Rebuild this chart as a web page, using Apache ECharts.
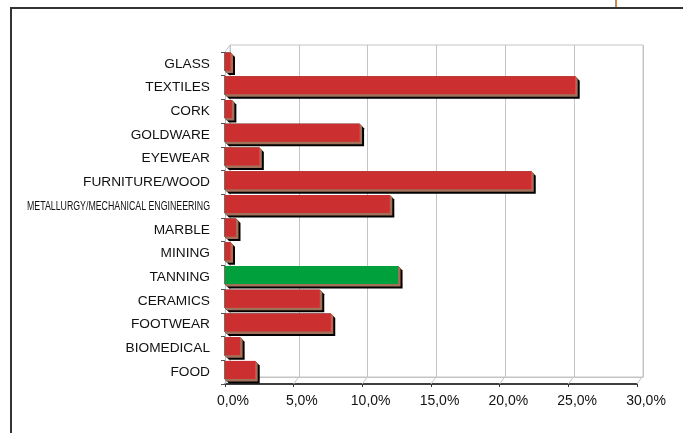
<!DOCTYPE html>
<html>
<head>
<meta charset="utf-8">
<script src="https://cdn.jsdelivr.net/npm/echarts@6/dist/echarts.min.js"></script>
<style>
  html, body { margin: 0; padding: 0; background: #fff; }
  #chart { width: 683px; height: 433px; }
</style>
</head>
<body>
<div id="chart"></div>
<script>
// Sector shares (%), top to bottom
const categories = ['GLASS', 'TEXTILES', 'CORK', 'GOLDWARE', 'EYEWEAR', 'FURNITURE/WOOD',
  'METALLURGY/MECHANICAL ENGINEERING', 'MARBLE', 'MINING', 'TANNING', 'CERAMICS',
  'FOOTWEAR', 'BIOMEDICAL', 'FOOD'];
const shares = [0.4, 25.5, 0.5, 9.8, 2.5, 22.3, 12.0, 0.8, 0.4, 12.6, 6.9, 7.7, 1.1, 2.2];
const xTicks = [0, 5, 10, 15, 20, 25, 30];
const highlighted = 'TANNING';
const longLabel = 'METALLURGY/MECHANICAL ENGINEERING';

const FONT = '"Liberation Sans", Arial, sans-serif';
const RED = '#cc2f2f';
const GREEN = '#00a03c';
const SIDE = '#a0705a';
const GRIDLINE = '#c4c4c4';
const DEPTH = [5, -7];   // offset from front plane to back wall

const chart = echarts.init(document.getElementById('chart'), null, { renderer: 'canvas' });

const pct = v => v.toFixed(1).replace('.', ',') + '%';

const option = {
  animation: false,
  backgroundColor: '#fff',
  grid: [
    // front plane
    { left: 225, top: 52, right: 46, bottom: 49 },
    // back wall
    { left: 230, top: 45, right: 40, bottom: 56, show: true, borderColor: GRIDLINE, borderWidth: 1 }
  ],
  xAxis: [
    {
      gridIndex: 0, type: 'value', min: 0, max: 30, interval: 5,
      axisLine: { show: true, lineStyle: { color: '#000', width: 1.5 } },
      axisTick: { show: true, length: 3, lineStyle: { color: '#333' } },
      axisLabel: { show: false },
      splitLine: { show: false }
    },
    {
      gridIndex: 1, type: 'value', min: 0, max: 30, interval: 5,
      axisLine: { show: true, lineStyle: { color: GRIDLINE } },
      axisTick: { show: false },
      axisLabel: {
        formatter: pct, fontFamily: FONT, fontSize: 14, color: '#111',
        margin: 17, padding: [0, 0, 0, 6]
      },
      splitLine: { show: true, lineStyle: { color: GRIDLINE, width: 1 } }
    }
  ],
  yAxis: [
    {
      gridIndex: 0, type: 'category', data: categories, inverse: true,
      axisLine: { show: true, lineStyle: { color: '#bbb' } },
      axisTick: { show: true, length: 4, lineStyle: { color: '#555' } },
      axisLabel: {
        fontFamily: FONT, fontSize: 13.7, color: '#111', margin: 15,
        formatter: v => (v === longLabel ? '' : v)
      },
      splitLine: { show: false }
    },
    {
      gridIndex: 1, type: 'value', show: false, splitLine: { show: false }
    }
  ],
  series: [
    {
      // floor edges joining the front axis ticks to the back wall
      type: 'custom', xAxisIndex: 0, yAxisIndex: 0, z: 1, silent: true,
      data: xTicks.map(t => [t, 0]),
      encode: { x: 0, y: 1 },
      renderItem(params, api) {
        const cs = params.coordSys;
        const x = api.coord([api.value(0), 0])[0];
        const yb = cs.y + cs.height;
        const children = [{
          type: 'line',
          shape: { x1: x, y1: yb, x2: x + DEPTH[0], y2: yb + DEPTH[1] },
          style: { stroke: GRIDLINE, lineWidth: 1 }
        }];
        if (params.dataIndex === 0) {
          children.push({
            type: 'line',
            shape: { x1: cs.x, y1: cs.y, x2: cs.x + DEPTH[0], y2: cs.y + DEPTH[1] },
            style: { stroke: GRIDLINE, lineWidth: 1 }
          });
        }
        return { type: 'group', children };
      }
    },
    {
      // extruded bars with drop shadow
      type: 'custom', xAxisIndex: 0, yAxisIndex: 0, z: 3,
      data: shares.map((v, i) => [v, i]),
      encode: { x: 0, y: 1 },
      renderItem(params, api) {
        const v = api.value(0), idx = api.value(1);
        const p0 = api.coord([0, idx]);
        const p1 = api.coord([v, idx]);
        const band = api.size([0, 1])[1];
        const h = band * 0.76;
        const top = p0[1] - band / 2 + 0.6;
        const x0 = p0[0] - 0.5, x1 = p1[0];
        const d = 2.5, s = 4.5;
        const face = categories[idx] === highlighted ? GREEN : RED;
        const hull = k => [[x0, top], [x1, top], [x1 + k, top + k], [x1 + k, top + h + k],
          [x0 + k, top + h + k], [x0, top + h]];
        return {
          type: 'group',
          children: [
            { type: 'polygon', shape: { points: hull(s) }, style: { fill: '#000' } },
            { type: 'polygon', shape: { points: hull(d) }, style: { fill: SIDE } },
            { type: 'rect', shape: { x: x0, y: top, width: x1 - x0, height: h }, style: { fill: face } }
          ]
        };
      }
    }
  ],
  graphic: [
    { type: 'line', id: 'frameTop', shape: { x1: 10, y1: 8, x2: 683, y2: 8 }, style: { stroke: '#333', lineWidth: 2 } },
    { type: 'line', id: 'frameLeft', shape: { x1: 11, y1: 8, x2: 11, y2: 433 }, style: { stroke: '#333', lineWidth: 2 } },
    { type: 'line', id: 'marker', shape: { x1: 616, y1: 0, x2: 616, y2: 7 }, style: { stroke: '#c48a52', lineWidth: 2 } }
  ]
};

chart.setOption(option);

// The long category name is set in a condensed face so it fits beside the axis
const labelSize = 13.7;
const ctx = document.createElement('canvas').getContext('2d');
ctx.font = labelSize + 'px ' + FONT;
const naturalWidth = ctx.measureText(longLabel).width;
const fitWidth = 183;
const ly = chart.convertToPixel({ yAxisIndex: 0 }, longLabel);
const lx = chart.convertToPixel({ xAxisIndex: 0 }, 0) - 15;
chart.setOption({
  graphic: [{
    type: 'text', id: 'longLabel', x: lx, y: ly, scaleX: fitWidth / naturalWidth,
    style: { text: longLabel, font: labelSize + 'px ' + FONT, fill: '#111', align: 'right', verticalAlign: 'middle' }
  }]
});
</script>
</body>
</html>
